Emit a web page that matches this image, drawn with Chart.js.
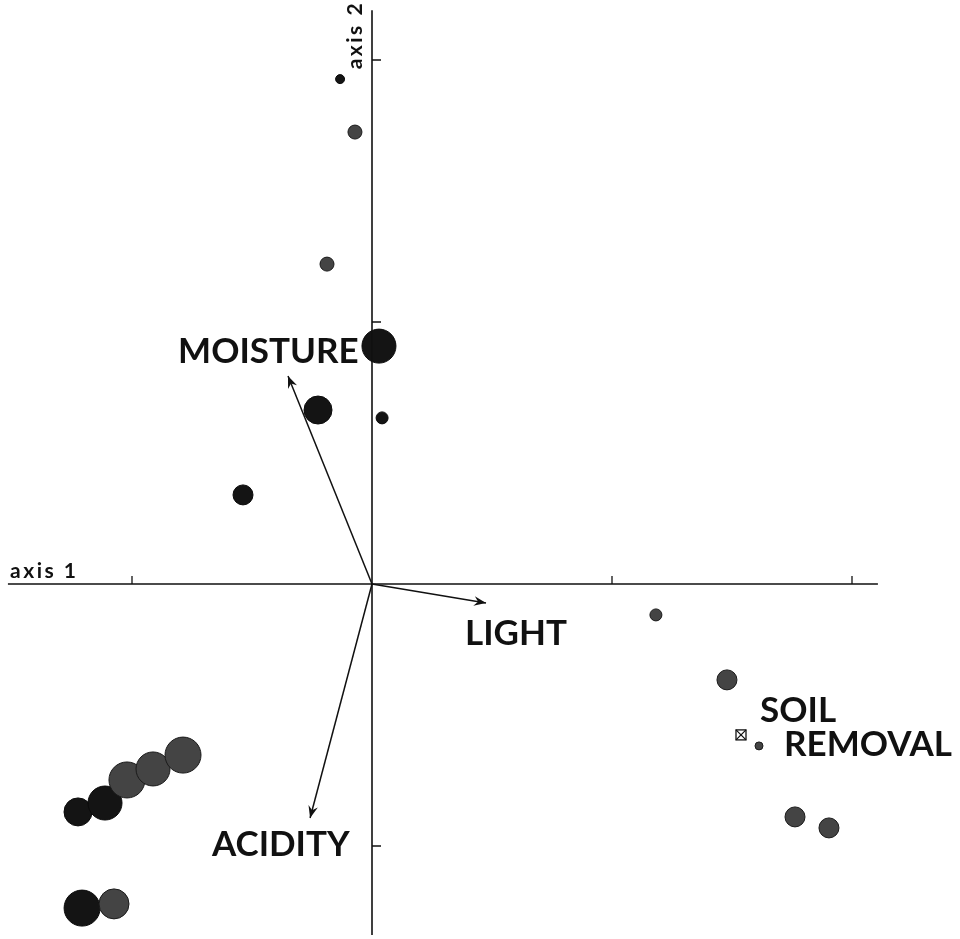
<!DOCTYPE html>
<html>
<head>
<meta charset="utf-8">
<script src="https://cdn.jsdelivr.net/npm/chart.js@4.4.1/dist/chart.umd.min.js"></script>
<style>
  html, body { margin: 0; padding: 0; background: #fff; }
  #wrap { width: 960px; height: 939px; }
</style>
</head>
<body>
<div id="wrap"><canvas id="biplot" width="960" height="939"></canvas></div>
<script>
// site scores (axis 1, axis 2) and circle radius, split by shading
const darkX = [-0.133, 0.029, -0.225, 0.042, -0.5375, -1.225, -1.1125, -1.208];
const darkY = [1.927, 0.908, 0.664, 0.634, 0.340, -0.870, -0.836, -1.237];
const darkR = [4.5, 17, 14, 6, 10, 14, 17, 18];

const greyX = [-0.071, -0.1875, 1.183, 1.479, 1.6125, 1.7625, 1.904, -1.021, -0.9125, -0.7875, -1.075];
const greyY = [1.725, 1.221, -0.118, -0.366, -0.618, -0.889, -0.931, -0.748, -0.706, -0.653, -1.221];
const greyR = [7, 7, 6, 10, 4, 10, 10, 18, 17, 18, 15];

// environmental arrows
const arrowNames = ['MOISTURE', 'LIGHT', 'ACIDITY'];
const arrowX = [-0.35, 0.475, -0.258];
const arrowY = [0.794, -0.0725, -0.893];

// nominal variable centroid
const soilX = [1.5375];
const soilY = [-0.576];

const xTicks = [-1, 1, 2];
const yTicks = [-1, 1, 2];

function punkte(xs, ys) {
    return xs.map((x, i) => ({ x: x, y: ys[i] }));
}

// Ejes, flechas y rótulos dibujados con las escalas del gráfico
const ejes = {
    id: 'ejes',
    afterDatasetsDraw(chart) {
        const ctx = chart.ctx;
        const sx = chart.scales.x;
        const sy = chart.scales.y;
        const x0 = sx.getPixelForValue(0);
        const y0 = sy.getPixelForValue(0);

        ctx.save();
        ctx.strokeStyle = '#111';
        ctx.fillStyle = '#111';
        ctx.lineWidth = 1.6;

        // axis lines
        ctx.beginPath();
        ctx.moveTo(sx.getPixelForValue(-1.517), y0);
        ctx.lineTo(sx.getPixelForValue(2.108), y0);
        ctx.moveTo(x0, sy.getPixelForValue(2.19));
        ctx.lineTo(x0, sy.getPixelForValue(-1.34));
        ctx.stroke();

        ctx.lineWidth = 1.3;
        ctx.beginPath();
        xTicks.forEach(t => {
            const px = sx.getPixelForValue(t);
            ctx.moveTo(px, y0);
            ctx.lineTo(px, y0 - 8);
        });
        yTicks.forEach(t => {
            const py = sy.getPixelForValue(t);
            ctx.moveTo(x0, py);
            ctx.lineTo(x0 + 9, py);
        });
        ctx.stroke();

        // arrows
        ctx.lineWidth = 1.5;
        arrowX.forEach((ax, i) => {
            const tx = sx.getPixelForValue(ax);
            const ty = sy.getPixelForValue(arrowY[i]);
            const ang = Math.atan2(ty - y0, tx - x0);
            ctx.beginPath();
            ctx.moveTo(x0, y0);
            ctx.lineTo(tx, ty);
            ctx.stroke();
            ctx.beginPath();
            ctx.moveTo(tx, ty);
            ctx.lineTo(tx - 13 * Math.cos(ang - 0.38), ty - 13 * Math.sin(ang - 0.38));
            ctx.lineTo(tx - 8 * Math.cos(ang), ty - 8 * Math.sin(ang));
            ctx.lineTo(tx - 13 * Math.cos(ang + 0.38), ty - 13 * Math.sin(ang + 0.38));
            ctx.closePath();
            ctx.fill();
        });

        // soil removal centroid: crossed square
        soilX.forEach((cx, i) => {
            const px = sx.getPixelForValue(cx);
            const py = sy.getPixelForValue(soilY[i]);
            const h = 5;
            ctx.lineWidth = 1.3;
            ctx.strokeRect(px - h, py - h, 2 * h, 2 * h);
            ctx.beginPath();
            ctx.moveTo(px - h, py - h);
            ctx.lineTo(px + h, py + h);
            ctx.moveTo(px + h, py - h);
            ctx.lineTo(px - h, py + h);
            ctx.stroke();
        });

        // labels
        ctx.textBaseline = 'middle';
        ctx.textAlign = 'left';
        ctx.font = 'bold 35px Lato, "DejaVu Sans", sans-serif';
        ctx.letterSpacing = '0px';
        const rotulos = [
            ['MOISTURE', -0.808, 0.885],
            ['LIGHT', 0.3875, -0.191],
            ['ACIDITY', -0.667, -0.996],
            ['SOIL', 1.617, -0.485],
            ['REMOVAL', 1.717, -0.615]
        ];
        rotulos.forEach(r => {
            ctx.fillText(r[0], sx.getPixelForValue(r[1]), sy.getPixelForValue(r[2]));
        });

        ctx.font = 'bold 21px Lato, "DejaVu Sans", sans-serif';
        ctx.letterSpacing = '2.5px';
        ctx.textBaseline = 'alphabetic';
        ctx.fillText('axis 1', sx.getPixelForValue(-1.508), sy.getPixelForValue(0.023));

        ctx.translate(sx.getPixelForValue(-0.042), sy.getPixelForValue(2.095));
        ctx.rotate(-Math.PI / 2);
        ctx.textAlign = 'center';
        ctx.fillText('axis 2', 0, 0);
        ctx.restore();
    }
};

new Chart(document.getElementById('biplot'), {
    type: 'scatter',
    data: {
        datasets: [{
            label: 'grey',
            data: punkte(greyX, greyY),
            pointRadius: greyR,
            pointBackgroundColor: '#444',
            pointBorderColor: '#1a1a1a',
            pointBorderWidth: 1
        }, {
            label: 'dark',
            data: punkte(darkX, darkY),
            pointRadius: darkR,
            pointBackgroundColor: '#141414',
            pointBorderColor: '#0a0a0a',
            pointBorderWidth: 1
        }]
    },
    options: {
        responsive: false,
        animation: false,
        layout: { padding: 0, autoPadding: false },
        plugins: {
            legend: { display: false },
            tooltip: { enabled: false }
        },
        scales: {
            x: { type: 'linear', display: false, min: -1.55, max: 2.45 },
            y: { type: 'linear', display: false, min: -1.355, max: 2.229 }
        }
    },
    plugins: [ejes]
});
</script>
</body>
</html>
